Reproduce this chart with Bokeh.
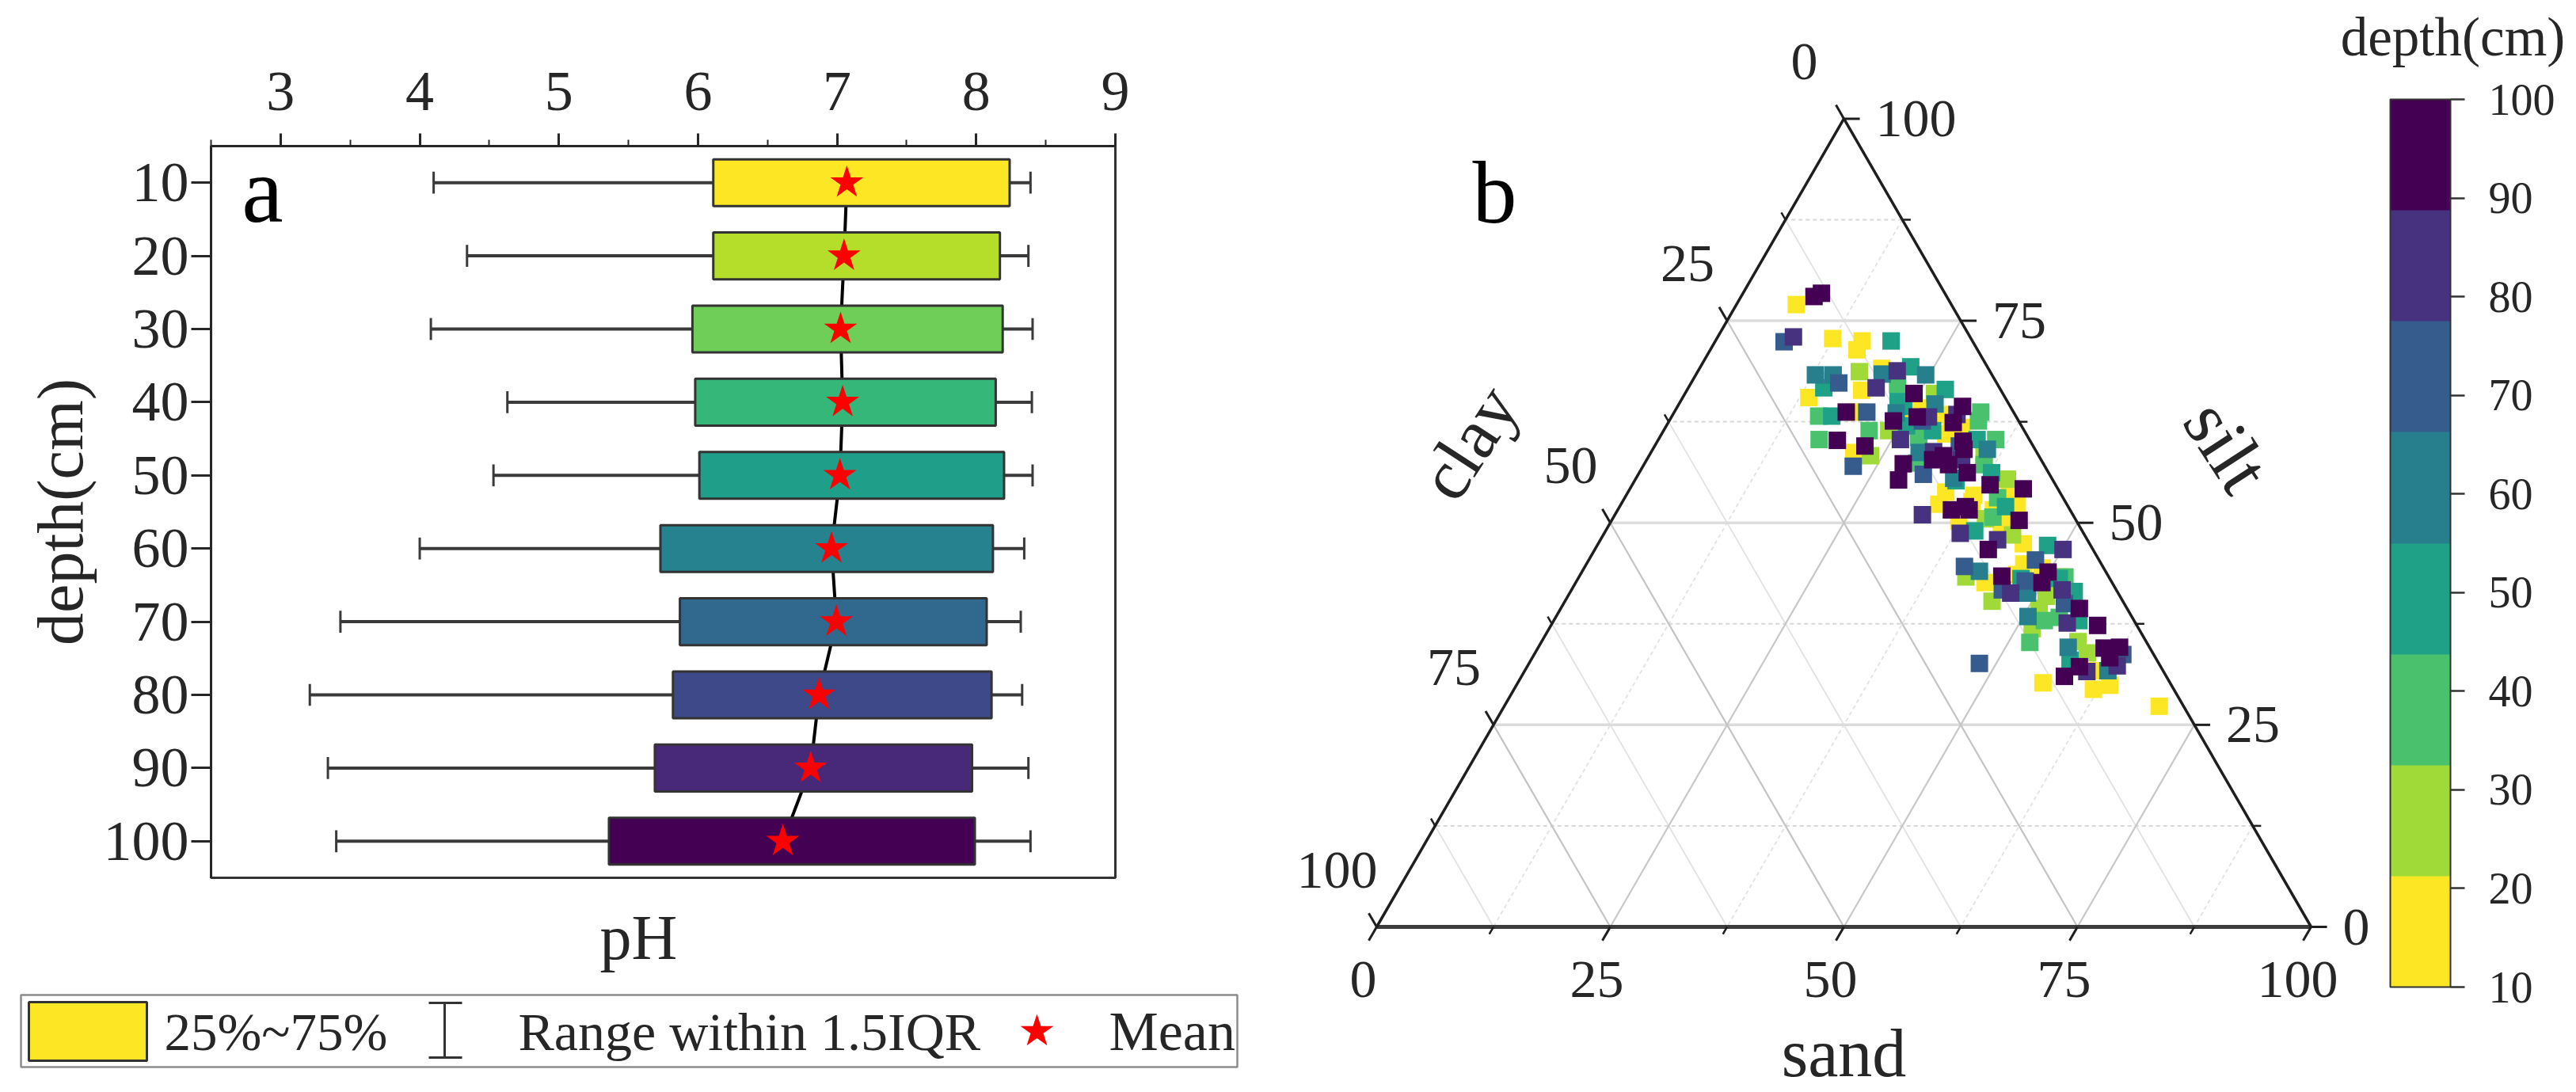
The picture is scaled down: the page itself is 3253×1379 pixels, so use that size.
from math import radians, sqrt
from bokeh.embed import file_html
from bokeh.resources import INLINE
from bokeh.layouts import row, column
from bokeh.plotting import figure
from bokeh.models import (ColorBar, ColumnDataSource, FixedTicker, Label, LinearColorMapper, Range1d)
from bokeh.core.properties import value

# ---------- panel a data ----------
depths = [10, 20, 30, 40, 50, 60, 70, 80, 90, 100]
whisker_low = [4.10, 4.34, 4.08, 4.63, 4.53, 4.00, 3.43, 3.21, 3.34, 3.40]
q1 = [6.11, 6.11, 5.96, 5.98, 6.01, 5.73, 5.87, 5.82, 5.69, 5.36]
q3 = [8.24, 8.17, 8.19, 8.14, 8.20, 8.12, 8.075, 8.11, 7.97, 7.99]
whisker_high = [8.39, 8.375, 8.405, 8.40, 8.405, 8.345, 8.32, 8.33, 8.375, 8.39]
mean_ph = [7.07, 7.05, 7.025, 7.04, 7.02, 6.96, 6.995, 6.87, 6.81, 6.61]
box_colors = ["#fde725", "#b5de2b", "#6ece58", "#35b779", "#1f9e89",
              "#26828e", "#31688e", "#3e4989", "#482878", "#440154"]

# ---------- panel b data: (sand, silt) per colour band ----------
sand_10 = [6.4, 12.4, 15.7, 15.7, 19.5, 14.4, 18.7, 13.5, 19.4, 26.0, 28.7, 25.4, 30.4, 31.7, 21.7, 34.0, 37.2, 34.0,
           41.0, 42.5, 40.2, 41.8, 37.2, 42.4, 45.5, 37.4, 43.8, 46.8, 49.0, 46.7, 51.5, 50.9, 60.7, 56.2, 62.0, 63.5, 70.1, 30.6]
silt_10 = [77.0, 72.8, 72.5, 71.4, 69.1, 67.6, 66.4, 65.5, 63.7, 64.2, 63.4, 62.6, 61.0, 61.8, 58.7, 53.8, 53.4, 52.3,
           53.4, 52.1, 51.6, 50.6, 50.2, 48.9, 47.4, 52.6, 42.6, 44.9, 44.4, 43.6, 43.3, 42.3, 31.7, 30.2, 29.4, 29.9, 27.3, 61.8]
sand_30 = [17.3, 26.7, 24.1, 23.7, 35.9, 39.8, 39.9, 43.8, 41.4, 45.7, 51.2, 51.2, 57.4, 59.1, 51.7]
silt_30 = [68.7, 66.0, 61.4, 58.3, 58.2, 55.4, 50.5, 48.5, 43.3, 40.3, 39.4, 40.9, 35.3, 33.9, 36.9]
sand_40 = [22.2, 32.8, 33.1, 15.7, 22.0, 17.2, 36.1, 27.7, 29.1, 40.6, 39.9, 53.9, 52.5, 52.3, 52.0, 36.4]
silt_40 = [67.1, 63.7, 62.6, 63.2, 61.4, 60.3, 60.3, 60.6, 57.4, 50.7, 53.1, 38.3, 37.9, 35.2, 43.3, 57.2]
sand_50 = [18.8, 22.5, 27.6, 14.5, 17.1, 24.2, 28.8, 34.1, 34.4, 39.5, 48.2, 53.9, 47.4, 56.2, 57.7, 51.5, 41.3, 37.7, 23.3, 25.7]
silt_50 = [72.5, 69.3, 66.5, 66.7, 63.2, 64.4, 61.4, 60.3, 55.2, 49.0, 47.2, 41.5, 43.1, 37.9, 33.0, 43.1, 52.0, 56.2, 65.0, 62.0]
sand_60 = [12.8, 14.7, 19.9, 24.6, 23.8, 27.4, 28.7, 35.8, 42.5, 49.0, 50.5, 56.7, 62.4, 34.0]
silt_60 = [68.3, 68.3, 68.4, 68.3, 63.6, 64.7, 58.7, 59.1, 44.0, 41.3, 38.4, 34.6, 31.7, 55.5]
sand_70 = [7.4, 15.8, 20.6, 22.5, 30.5, 27.1, 32.6, 40.6, 47.8, 48.0, 46.1, 48.2, 53.6, 63.0, 33.4]
silt_70 = [72.4, 67.3, 63.7, 57.0, 56.0, 62.6, 59.5, 44.6, 45.4, 42.8, 41.7, 32.6, 40.0, 33.7, 58.0]
sand_80 = [8.1, 20.1, 21.3, 25.9, 32.9, 38.1, 30.4, 30.2, 33.7, 50.1, 42.5, 52.5, 47.2, 60.2, 55.1, 63.1, 27.5]
silt_80 = [73.0, 66.7, 68.8, 60.3, 51.0, 48.7, 63.4, 58.8, 57.8, 46.7, 47.9, 41.7, 41.3, 31.6, 37.6, 32.3, 63.1]
sand_100 = [7.8, 8.4, 18.4, 19.2, 22.5, 24.5, 30.5, 27.7, 28.2, 31.5, 32.6, 33.3, 32.7, 35.1, 38.3, 42.1, 43.6, 35.7,
            37.0, 42.1, 45.2, 49.9, 55.5, 58.5, 60.6, 62.2, 61.8, 59.1, 58.1, 49.9, 30.6, 24.0, 26.3, 30.5, 37.6]
silt_100 = [78.0, 78.4, 63.7, 60.2, 59.5, 66.0, 64.4, 57.3, 55.3, 58.3, 57.2, 59.1, 60.1, 56.2, 54.7, 54.2, 50.3, 51.6,
            52.0, 46.7, 43.4, 43.9, 39.4, 37.3, 34.5, 34.6, 33.3, 32.2, 31.0, 42.6, 57.8, 62.6, 63.1, 62.4, 51.6]
band_palette = ["#fde725", "#a0da39", "#4ac16d", "#1fa187", "#277f8e", "#365c8d", "#46327e", "#440154"]
ternary_major = [0, 25, 50, 75, 100]
ternary_minor = [12.5, 37.5, 62.5, 87.5]
colorbar_ticks = [10, 20, 30, 40, 50, 60, 70, 80, 90, 100]
ph_ticks = [3, 4, 5, 6, 7, 8, 9]
ph_minor = [2.5, 3.5, 4.5, 5.5, 6.5, 7.5, 8.5]

SERIF = "Liberation Serif"
INK = "#262626"

# ---------- panel a ----------
W_A, H_A = 1600, 1140
p_a = figure(width=W_A, height=H_A, output_backend="svg", toolbar_location=None, frame_align=False,
             x_axis_location="above", x_range=Range1d(2.5, 9), y_range=Range1d(105, 5),
             min_border_left=266, min_border_right=192, min_border_top=184, min_border_bottom=32)
p_a.grid.visible = False
p_a.outline_line_color = "#333333"
p_a.outline_line_width = 3
xa = p_a.xaxis[0]
xa.ticker = FixedTicker(ticks=ph_ticks, minor_ticks=ph_minor)
xa.major_tick_in, xa.major_tick_out = 0, 16
xa.minor_tick_in, xa.minor_tick_out = 0, 8
xa.major_label_standoff = 30
ya = p_a.yaxis[0]
ya.ticker = FixedTicker(ticks=depths)
ya.minor_tick_line_color = None
ya.major_tick_in, ya.major_tick_out = 0, 25
ya.major_label_standoff = 3
ya.axis_label = "depth(cm)"
ya.axis_label_text_font = SERIF
ya.axis_label_text_font_size = "82px"
ya.axis_label_text_font_style = "normal"
ya.axis_label_text_color = INK
ya.axis_label_standoff = 6
for ax in (xa, ya):
    ax.major_label_text_font = SERIF
    ax.major_label_text_font_size = "72px"
    ax.major_label_text_color = INK
    ax.axis_line_color = INK
    ax.axis_line_width = 3
    ax.major_tick_line_color = INK
    ax.major_tick_line_width = 3
    ax.minor_tick_line_color = INK if ax is xa else None
    ax.minor_tick_line_width = 2

CAP = 1.5
src = ColumnDataSource(dict(depth=depths, low=whisker_low, q1=q1, q3=q3, high=whisker_high,
                            mean=mean_ph, color=box_colors,
                            cap0=[d - CAP for d in depths], cap1=[d + CAP for d in depths]))
p_a.line("mean", "depth", source=src, line_color="black", line_width=4)
p_a.segment(x0="low", y0="depth", x1="q1", y1="depth", source=src, line_color="#3a3a3a", line_width=4)
p_a.segment(x0="q3", y0="depth", x1="high", y1="depth", source=src, line_color="#3a3a3a", line_width=4)
p_a.segment(x0="low", x1="low", y0="cap0", y1="cap1", source=src, line_color="#3a3a3a", line_width=3)
p_a.segment(x0="high", x1="high", y0="cap0", y1="cap1", source=src, line_color="#3a3a3a", line_width=3)
p_a.hbar(y="depth", left="q1", right="q3", height=6.4, source=src, fill_color="color",
         line_color="#333333", line_width=3)
p_a.scatter("mean", "depth", source=src, marker="star", size=44, fill_color="#ff0000", line_color="#ff0000",
            line_width=0)
p_a.add_layout(Label(x=2.87, y=11.1, text="a", text_font=SERIF, text_font_size="118px", text_color="black",
                     text_align="center", text_baseline="alphabetic"))

# ---------- strip under panel a: x title and legend (local pixel space) ----------
H_L = 231
p_leg = figure(width=W_A, height=H_L, output_backend="svg", toolbar_location=None, frame_align=False,
               x_range=Range1d(0, W_A), y_range=Range1d(H_L, 0), min_border=0)
p_leg.axis.visible = False
p_leg.grid.visible = False
p_leg.outline_line_color = None
p_leg.text([806], [43], text=["pH"], text_font=value(SERIF), text_font_size="80px", text_color=INK,
           text_align="center", text_baseline="middle")
p_leg.quad(left=[26], right=[1562], top=[116], bottom=[207], fill_color="white", line_color="#8c8c8c", line_width=2.5)
p_leg.quad(left=[36], right=[185], top=[125], bottom=[199], fill_color=box_colors[0], line_color="#333333", line_width=3)
p_leg.segment(x0=[561, 541, 541], x1=[561, 583, 583], y0=[126, 126, 195], y1=[195, 126, 195], line_color="#333333",
              line_width=3)
p_leg.scatter([1309], [162], marker="star", size=44, fill_color="#ff0000", line_color="#ff0000", line_width=0)
p_leg.text([207], [162], text=["25%~75%"], text_font=value(SERIF), text_font_size="67px", text_color=INK,
           text_baseline="middle")
p_leg.text([654], [162], text=["Range within 1.5IQR"], text_font=value(SERIF), text_font_size="68px", text_color=INK,
           text_baseline="middle")
p_leg.text([1400], [162], text=["Mean"], text_font=value(SERIF), text_font_size="70px", text_color=INK,
           text_baseline="middle")

# ---------- panel b: ternary ----------
W_B, H_B = 1645, 1379
PX = 11.8
PY = 11.785
XO, YO = 1738 - 1600, H_B - 1170   # triangle's left vertex inside the figure
p_b = figure(width=W_B, height=H_B, output_backend="svg", toolbar_location=None, min_border=0, frame_align=False,
             x_range=Range1d(-XO / PX, (W_B - XO) / PX), y_range=Range1d(-YO / PY, (H_B - YO) / PY))
p_b.axis.visible = False
p_b.grid.visible = False
p_b.outline_line_color = None
H3 = sqrt(3) / 2


def tx(sand, silt):
    return sand + silt / 2


def ty(silt):
    return silt * H3


def grid_lines(levels, kind):
    xs, ys = [], []
    for v in levels:
        if v in (0, 100):
            continue
        if kind == "silt":      # horizontal
            xs.append([tx(100 - v, v), tx(0, v)]); ys.append([ty(v), ty(v)])
        elif kind == "sand":    # parallel to the left edge
            xs.append([tx(v, 100 - v), tx(v, 0)]); ys.append([ty(100 - v), ty(0)])
        else:                   # clay, parallel to the right edge
            xs.append([tx(0, 100 - v), tx(100 - v, 0)]); ys.append([ty(100 - v), ty(0)])
    return xs, ys


def draw_grid(levels, kind, color, width, dash):
    xs, ys = grid_lines(levels, kind)
    p_b.multi_line(xs, ys, line_color=color, line_width=width, line_dash=dash)


draw_grid(ternary_minor, "silt", "#d8d8d8", 2, "5 4")
draw_grid(ternary_minor, "sand", "#e2e2e2", 1.8, "5 4")
draw_grid(ternary_minor, "clay", "#e2e2e2", 1.8, "solid")
draw_grid(ternary_major, "silt", "#dcdcdc", 3.5, "solid")
draw_grid(ternary_major, "sand", "#c8c8c8", 2.2, "solid")
draw_grid(ternary_major, "clay", "#c4c4c4", 2.2, "solid")

# scatter: all bands through the colour mapper
groups = [(10, sand_10, silt_10), (30, sand_30, silt_30), (40, sand_40, silt_40), (50, sand_50, silt_50),
          (60, sand_60, silt_60), (70, sand_70, silt_70), (80, sand_80, silt_80), (100, sand_100, silt_100)]
mapper = LinearColorMapper(palette=band_palette, low=10, high=100)
xs, ys, ds = [], [], []
for d, sa, si in groups:
    for a, b in zip(sa, si):
        xs.append(tx(a, b))
        ys.append(ty(b))
        ds.append(d)
sb = ColumnDataSource(dict(x=xs, y=ys, depth=ds))
p_b.scatter("x", "y", source=sb, marker="square", size=22, line_width=0,
            fill_color={"field": "depth", "transform": mapper})

# triangle edges
p_b.segment(x0=[tx(0, 0)], y0=[ty(0)], x1=[tx(100, 0)], y1=[ty(0)], line_color="#3c3c3c", line_width=5)
p_b.segment(x0=[tx(0, 0), tx(100, 0)], y0=[ty(0), ty(0)], x1=[tx(0, 100), tx(0, 100)], y1=[ty(100), ty(100)],
            line_color="#1e1e1e", line_width=3.5)

# ticks
MAJ, MIN = 1.7, 0.9
seg = {"x0": [], "y0": [], "x1": [], "y1": [], "w": []}
for levels, length, w in ((ternary_major, MAJ, 3), (ternary_minor, MIN, 2.5)):
    for v in levels:
        # bottom (sand), down-left
        seg["x0"].append(tx(v, 0)); seg["y0"].append(0)
        seg["x1"].append(tx(v, 0) - length / 2); seg["y1"].append(-length * H3); seg["w"].append(w)
        # right (silt), horizontal
        seg["x0"].append(tx(100 - v, v)); seg["y0"].append(ty(v))
        seg["x1"].append(tx(100 - v, v) + length); seg["y1"].append(ty(v)); seg["w"].append(w)
        # left (clay), up-left
        seg["x0"].append(tx(0, 100 - v)); seg["y0"].append(ty(100 - v))
        seg["x1"].append(tx(0, 100 - v) - length / 2); seg["y1"].append(ty(100 - v) + length * H3); seg["w"].append(w)
p_b.segment("x0", "y0", "x1", "y1", source=ColumnDataSource(seg), line_color="#1e1e1e", line_width="w")

TICK_FONT = dict(text_font=value(SERIF), text_font_size="68px", text_color=INK)
for v in ternary_major:
    p_b.text([tx(v, 0)], [0], text=[str(v)], x_offset=-17, y_offset=66, text_align="center", text_baseline="middle",
             **TICK_FONT)
    p_b.text([tx(100 - v, v)], [ty(v)], text=[str(v)], x_offset=40, y_offset=0, text_align="left",
             text_baseline="middle", **TICK_FONT)
    p_b.text([tx(0, 100 - v)], [ty(100 - v)], text=[str(v)], x_offset=-50, y_offset=-72, text_align="center",
             text_baseline="middle", **TICK_FONT)

TITLE = dict(text_font=value(SERIF), text_color=INK, text_align="center", text_baseline="middle")
p_b.text([50], [-159 / PY], text=["sand"], text_font_size="86px", **TITLE)
p_b.text([(1854 - 1738) / PX], [(1170 - 558) / PY], text=["clay"], angle=radians(57), text_font_size="90px", **TITLE)
p_b.text([(2812 - 1738) / PX], [(1170 - 563) / PY], text=["silt"], angle=radians(-57), text_font_size="94px", **TITLE)
p_b.text([(1887 - 1738) / PX], [(1170 - 242) / PY], text=["b"], text_font=value(SERIF), text_font_size="112px",
         text_color="black", text_align="center", text_baseline="middle")

# colour bar
cb = ColorBar(color_mapper=mapper, ticker=FixedTicker(ticks=colorbar_ticks), width=76, height=1121,
              location=(1418, H_B - 1246), margin=0, padding=0, major_tick_in=0, major_tick_out=18,
              major_tick_line_color="#333333", major_tick_line_width=2.5, bar_line_color="#333333", bar_line_width=2,
              major_label_text_font=SERIF, major_label_text_font_size="56px", major_label_text_color=INK,
              label_standoff=30, background_fill_color=None, border_line_color=None)
p_b.add_layout(cb)
p_b.add_layout(Label(x=1497, y=H_B - 46, x_units="screen", y_units="screen", text="depth(cm)", text_font=SERIF,
                     text_font_size="69px", text_color=INK, text_align="center", text_baseline="middle"))

layout = row(column(p_a, p_leg, spacing=0), p_b, spacing=0)
open("out.html", "w").write(file_html(layout, INLINE))
